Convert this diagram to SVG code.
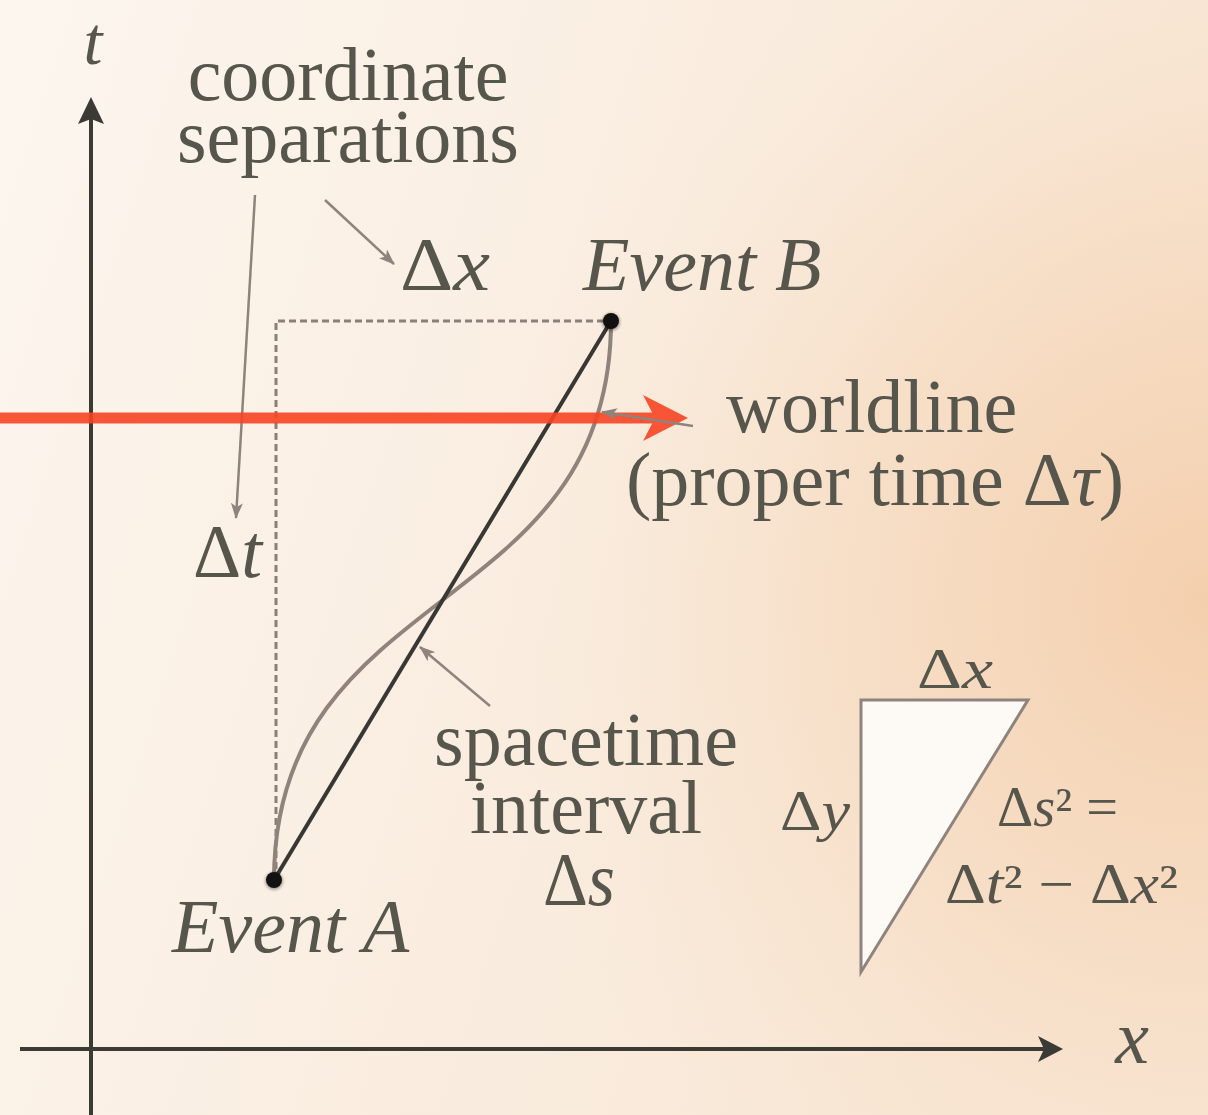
<svg xmlns="http://www.w3.org/2000/svg" width="1208" height="1115" viewBox="0 0 1208 1115">
<style>
.lbl{font-family:"Liberation Serif","Times New Roman",serif;fill:#57564c}
.big{font-size:76px}
.sm{font-size:56px}
.it{font-style:italic}
.ptr{stroke:#8f847d;stroke-width:2.5;fill:none}
.dash{stroke:#8a7f79;stroke-width:3;stroke-dasharray:7 4;fill:none}
</style>
<defs>
<linearGradient id="bg" x1="0" y1="0" x2="1" y2="0.3">
<stop offset="0" stop-color="#fcf6ef"/>
<stop offset="1" stop-color="#f8e6d4"/>
</linearGradient>
<radialGradient id="glow" cx="1208" cy="600" r="720" gradientUnits="userSpaceOnUse">
<stop offset="0" stop-color="#f4cfad" stop-opacity="1"/>
<stop offset="0.5" stop-color="#f5d6b8" stop-opacity="0.55"/>
<stop offset="1" stop-color="#f8e4d0" stop-opacity="0"/>
</radialGradient>
<marker id="ah" viewBox="0 0 16 12" refX="15" refY="6" markerWidth="16" markerHeight="12" markerUnits="userSpaceOnUse" orient="auto">
<path d="M0,0 L16,6 L0,12 L4,6 Z" fill="#8f847d"/>
</marker>
<filter id="sh" x="-1" y="-1" width="3" height="3">
<feGaussianBlur stdDeviation="1.5"/>
</filter>
</defs>
<rect width="1208" height="1115" fill="url(#bg)"/>
<rect width="1208" height="1115" fill="url(#glow)"/>

<g id="axes">
<line x1="91" y1="1115" x2="91" y2="115" stroke="#3b3a35" stroke-width="4"/>
<path d="M91,97 L104,124 L91,119 L78,124 Z" fill="#3b3a35"/>
<line x1="20" y1="1049" x2="1048" y2="1049" stroke="#3b3a35" stroke-width="4"/>
<path d="M1063,1049 L1038,1062 L1044,1049 L1038,1036 Z" fill="#3b3a35"/>
<text class="lbl it" font-size="68" x="93" y="64" text-anchor="middle">t</text>
<text class="lbl big it" x="1132" y="1063" text-anchor="middle">x</text>
</g>

<g id="separations">
<path class="dash" d="M276,880 L276,321 L611,321"/>
</g>

<g id="connectors">
<path id="worldline-curve" d="M274,880 C274,580 611,620 611,321" stroke="#8f837c" stroke-width="4" fill="none"/>
<line id="interval-line" x1="274" y1="880" x2="611" y2="321" stroke="#383733" stroke-width="4"/>
<line class="ptr" x1="255" y1="195" x2="236" y2="518" marker-end="url(#ah)"/>
<line class="ptr" x1="325" y1="200" x2="394" y2="264" marker-end="url(#ah)"/>
<line class="ptr" x1="490" y1="706" x2="420" y2="647" marker-end="url(#ah)"/>
<g id="red-arrow" opacity="0.9">
<line x1="0" y1="418" x2="660" y2="418" stroke="#f74524" stroke-width="11"/>
<path d="M688,418 L643,395 L655,418 L643,441 Z" fill="#f74524"/>
</g>
<line class="ptr" x1="693" y1="426" x2="602" y2="412" marker-end="url(#ah)"/>
</g>

<g id="event-a">
<circle cx="274" cy="881" r="9" fill="#000" opacity="0.35" filter="url(#sh)"/>
<circle cx="274" cy="880" r="8" fill="#111"/>
<text class="lbl big it" x="172" y="952">Event A</text>
</g>

<g id="event-b">
<circle cx="611" cy="322" r="9" fill="#000" opacity="0.35" filter="url(#sh)"/>
<circle cx="611" cy="321" r="8" fill="#111"/>
<text class="lbl big it" x="583" y="290">Event B</text>
</g>

<g id="label-coordinate">
<text class="lbl big" x="348" y="100" text-anchor="middle">coordinate</text>
<text class="lbl big" x="348" y="162" text-anchor="middle">separations</text>
</g>

<g id="label-dx">
<text class="lbl big" x="400" y="290" textLength="90" lengthAdjust="spacingAndGlyphs">Δ<tspan class="it">x</tspan></text>
</g>

<g id="label-dt">
<text class="lbl big" x="193" y="577" textLength="69" lengthAdjust="spacingAndGlyphs">Δ<tspan class="it">t</tspan></text>
</g>

<g id="label-worldline">
<text class="lbl big" x="726" y="432">worldline</text>
<text class="lbl big" x="626" y="505">(proper time Δ<tspan class="it">τ</tspan>)</text>
</g>

<g id="label-interval">
<text class="lbl big" x="586" y="765" text-anchor="middle">spacetime</text>
<text class="lbl big" x="586" y="833" text-anchor="middle">interval</text>
<text class="lbl big" x="543" y="905" textLength="72" lengthAdjust="spacingAndGlyphs">Δ<tspan class="it">s</tspan></text>
</g>

<g id="triangle">
<path d="M861,700 L1028,700 L861,972 Z" fill="#fdf9f5" stroke="#8f847d" stroke-width="3"/>
<text class="lbl sm" x="917" y="688" textLength="76" lengthAdjust="spacingAndGlyphs">Δ<tspan class="it">x</tspan></text>
<text class="lbl sm" x="780" y="830" textLength="70" lengthAdjust="spacingAndGlyphs">Δ<tspan class="it">y</tspan></text>
<text class="lbl sm" x="997" y="826" textLength="121" lengthAdjust="spacingAndGlyphs">Δ<tspan class="it">s</tspan>² =</text>
<text class="lbl sm" x="945" y="903" textLength="233" lengthAdjust="spacingAndGlyphs">Δ<tspan class="it">t</tspan>² − Δ<tspan class="it">x</tspan>²</text>
</g>
</svg>
